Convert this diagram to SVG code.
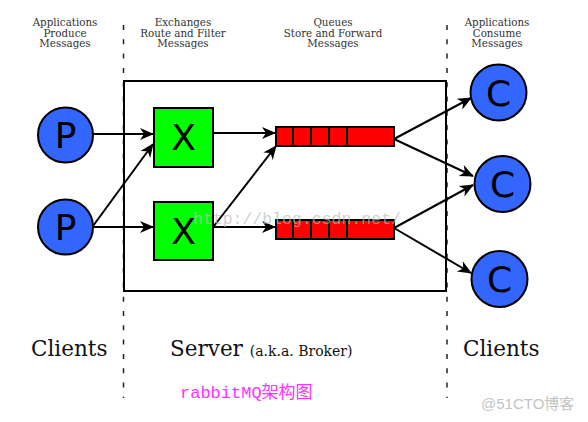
<svg xmlns="http://www.w3.org/2000/svg" width="588" height="422" viewBox="0 0 588 422">
<style>
.hdr{font-family:"DejaVu Serif",serif;font-size:10.3px;fill:#333;text-anchor:middle}
.big{font-family:"DejaVu Serif",serif;font-size:21.5px;fill:#111}
.small{font-family:"DejaVu Serif",serif;font-size:14px;fill:#111}
.dash{stroke:#222;stroke-width:1.5;stroke-dasharray:5 9.3;fill:none}
.circ{fill:#3366ff;stroke:#000;stroke-width:2}
.lbl{font-family:"DejaVu Sans",sans-serif;font-size:36px;fill:#000;text-anchor:middle}
.ex{fill:#00ff00;stroke:#000;stroke-width:2}
.q{fill:#ff0000;stroke:#000;stroke-width:2}
.conn line{stroke:#000;stroke-width:2;marker-end:url(#ah)}
</style>
<defs>
<marker id="ah" markerUnits="userSpaceOnUse" viewBox="-14 -7 16 14" refX="0" refY="0" markerWidth="16" markerHeight="14" orient="auto">
<path d="M1,0 L-13,-6 L-9,0 L-13,6 Z" fill="#000"/>
</marker>
</defs>
<rect width="588" height="422" fill="#fff"/>
<g id="headers">
<text class="hdr" x="65" y="26">Applications<tspan x="65" dy="10.5">Produce</tspan><tspan x="65" dy="10.5">Messages</tspan></text>
<text class="hdr" x="183" y="26">Exchanges<tspan x="183" dy="10.5">Route and Filter</tspan><tspan x="183" dy="10.5">Messages</tspan></text>
<text class="hdr" x="333" y="26">Queues<tspan x="333" dy="10.5">Store and Forward</tspan><tspan x="333" dy="10.5">Messages</tspan></text>
<text class="hdr" x="497" y="26">Applications<tspan x="497" dy="10.5">Consume</tspan><tspan x="497" dy="10.5">Messages</tspan></text>
</g>
<g id="dividers">
<line class="dash" x1="123.5" y1="25" x2="123.5" y2="398"/>
<line class="dash" x1="447" y1="25" x2="447" y2="398"/>
</g>
<g id="server"><rect x="124" y="81" width="322" height="210" fill="none" stroke="#000" stroke-width="2"/></g>
<g id="p1"><circle class="circ" cx="65.5" cy="135" r="27.5"/><text class="lbl" x="65.5" y="148">P</text></g>
<g id="p2"><circle class="circ" cx="65.5" cy="227" r="27.5"/><text class="lbl" x="65.5" y="240">P</text></g>
<g id="x1"><rect class="ex" x="154" y="108" width="59" height="59"/><text class="lbl" x="183.5" y="150">X</text></g>
<g id="x2"><rect class="ex" x="154" y="202" width="59" height="58"/><text class="lbl" x="183.5" y="244">X</text></g>
<g id="q1"><rect class="q" x="276" y="127" width="118" height="19"/><path d="M293,127V146M311,127V146M329,127V146M347,127V146" stroke="#000" stroke-width="2"/></g>
<g id="q2"><rect class="q" x="276" y="220" width="118" height="19"/><path d="M293,220V239M311,220V239M329,220V239M347,220V239" stroke="#000" stroke-width="2"/></g>
<g id="c1"><circle class="circ" cx="498.5" cy="92.5" r="28"/><text class="lbl" x="498.5" y="105.5">C</text></g>
<g id="c2"><circle class="circ" cx="502.5" cy="184" r="28"/><text class="lbl" x="502.5" y="197">C</text></g>
<g id="c3"><circle class="circ" cx="499.5" cy="279" r="28"/><text class="lbl" x="499.5" y="292">C</text></g>
<g id="connectors" class="conn">
<line x1="93" y1="134" x2="153" y2="134"/>
<line x1="93" y1="227" x2="153" y2="227"/>
<line x1="93" y1="226" x2="153" y2="144"/>
<line x1="213" y1="133" x2="275" y2="133"/>
<line x1="213" y1="227" x2="275" y2="227"/>
<line x1="214" y1="226" x2="276" y2="146"/>
<line x1="394" y1="139" x2="471" y2="98"/>
<line x1="394" y1="139" x2="473" y2="176"/>
<line x1="394" y1="228" x2="473" y2="185"/>
<line x1="394" y1="228" x2="471" y2="273"/>
</g>
<g id="labels">
<text class="big" x="31" y="356">Clients</text>
<text class="big" x="170" y="356">Server <tspan class="small">(a.k.a. Broker)</tspan></text>
<text class="big" x="463" y="356">Clients</text>
<text x="180" y="398" font-family="'Liberation Mono','Noto Sans CJK SC',monospace" font-size="17" fill="#ff33ff">rabbitMQ架构图</text>
<text x="193" y="224" font-family="'Liberation Mono',monospace" font-size="16.5" fill="#bbb" fill-opacity="0.7">http://blog.csdn.net/</text>
<text x="481" y="409" font-family="'Liberation Sans','Noto Sans CJK SC',sans-serif" font-size="15" fill="#c4c4c4">@51CTO博客</text>
</g>
</svg>
